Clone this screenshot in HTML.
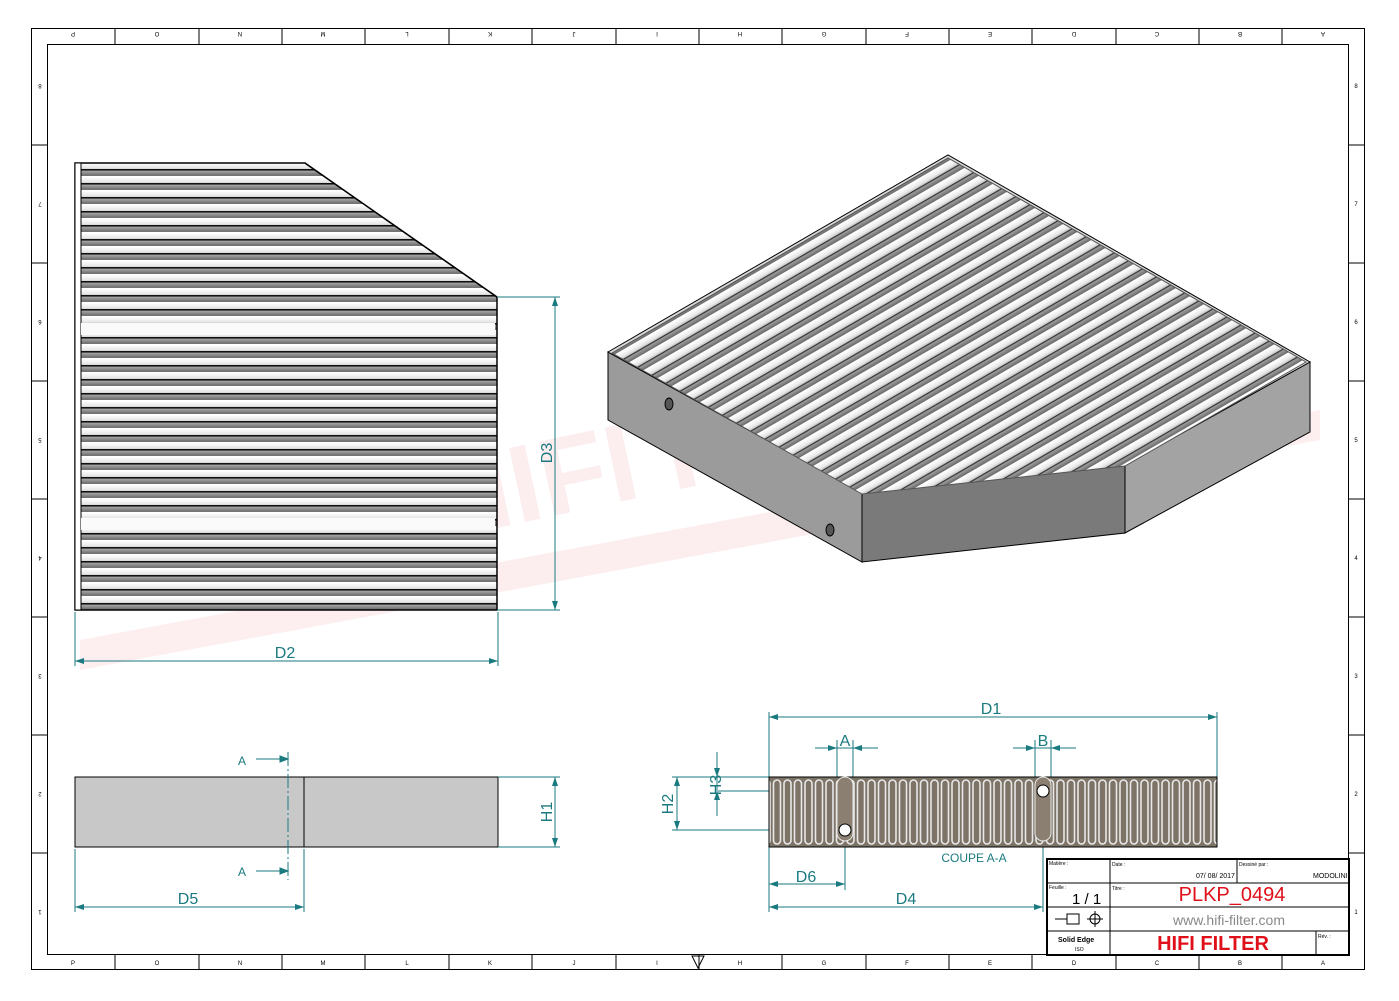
<!DOCTYPE html>
<html><head><meta charset="utf-8"><style>
html,body{margin:0;padding:0;background:#fff;}
svg{display:block;font-family:"Liberation Sans",sans-serif;}
</style></head><body>
<svg width="1399" height="1001" viewBox="0 0 1399 1001" xmlns="http://www.w3.org/2000/svg">
<defs>
<linearGradient id="pg" x1="0" y1="0" x2="0" y2="1">
<stop offset="0" stop-color="#ffffff"/><stop offset="0.35" stop-color="#e6e6e6"/><stop offset="0.6" stop-color="#a0a0a0"/><stop offset="0.9" stop-color="#6a6a6a"/><stop offset="1" stop-color="#f4f4f4"/>
</linearGradient>
<pattern id="pl" width="20" height="14" patternUnits="userSpaceOnUse" y="163">
<rect width="20" height="14" fill="url(#pg)"/><rect y="6" width="20" height="1.6" fill="#111"/><rect y="13" width="20" height="1" fill="#fff"/>
</pattern>
<pattern id="p3" width="20" height="14" patternUnits="userSpaceOnUse" patternTransform="rotate(-30.1)">
<rect width="20" height="14" fill="url(#pg)"/><rect y="7" width="20" height="1.2" fill="#333"/><rect y="13" width="20" height="1" fill="#fff"/>
</pattern>
<pattern id="ps" width="10.5" height="70" patternUnits="userSpaceOnUse" x="772" y="777">
<rect width="10.5" height="70" fill="#7d7467"/>
<rect x="1.5" y="3" width="7" height="64" rx="3.5" fill="none" stroke="#e8e8e8" stroke-width="1.6"/>
</pattern>
<clipPath id="c3"><polygon points="612,353 948,158 1306,362 1125,466 862,494"/></clipPath>
</defs>

<!-- watermark -->
<g opacity="0.07" fill="#e0102a">
<text x="440" y="540" font-size="110" font-weight="bold" transform="rotate(-12 440 540)">HIFI FILTER</text>
<polygon points="80,640 1320,410 1320,440 80,670"/>
</g>

<!-- frame -->
<rect x="31.5" y="28.5" width="1333" height="941" fill="none" stroke="#000"/>
<rect x="47.5" y="44.5" width="1301" height="910" fill="none" stroke="#000"/>
<g stroke="#000" stroke-width="1">
<line x1="115" y1="29" x2="115" y2="44"/><line x1="199" y1="29" x2="199" y2="44"/><line x1="282" y1="29" x2="282" y2="44"/><line x1="365" y1="29" x2="365" y2="44"/><line x1="449" y1="29" x2="449" y2="44"/><line x1="532" y1="29" x2="532" y2="44"/><line x1="616" y1="29" x2="616" y2="44"/><line x1="699" y1="29" x2="699" y2="44"/><line x1="782" y1="29" x2="782" y2="44"/><line x1="866" y1="29" x2="866" y2="44"/><line x1="949" y1="29" x2="949" y2="44"/><line x1="1032" y1="29" x2="1032" y2="44"/><line x1="1116" y1="29" x2="1116" y2="44"/><line x1="1199" y1="29" x2="1199" y2="44"/><line x1="1282" y1="29" x2="1282" y2="44"/>
<line x1="115" y1="955" x2="115" y2="969"/><line x1="199" y1="955" x2="199" y2="969"/><line x1="282" y1="955" x2="282" y2="969"/><line x1="365" y1="955" x2="365" y2="969"/><line x1="449" y1="955" x2="449" y2="969"/><line x1="532" y1="955" x2="532" y2="969"/><line x1="616" y1="955" x2="616" y2="969"/><line x1="699" y1="955" x2="699" y2="969"/><line x1="782" y1="955" x2="782" y2="969"/><line x1="866" y1="955" x2="866" y2="969"/><line x1="949" y1="955" x2="949" y2="969"/><line x1="1032" y1="955" x2="1032" y2="969"/><line x1="1116" y1="955" x2="1116" y2="969"/><line x1="1199" y1="955" x2="1199" y2="969"/><line x1="1282" y1="955" x2="1282" y2="969"/>
<line x1="32" y1="145" x2="47" y2="145"/><line x1="32" y1="263" x2="47" y2="263"/><line x1="32" y1="381" x2="47" y2="381"/><line x1="32" y1="499" x2="47" y2="499"/><line x1="32" y1="617" x2="47" y2="617"/><line x1="32" y1="735" x2="47" y2="735"/><line x1="32" y1="853" x2="47" y2="853"/>
<line x1="1349" y1="145" x2="1364" y2="145"/><line x1="1349" y1="263" x2="1364" y2="263"/><line x1="1349" y1="381" x2="1364" y2="381"/><line x1="1349" y1="499" x2="1364" y2="499"/><line x1="1349" y1="617" x2="1364" y2="617"/><line x1="1349" y1="735" x2="1364" y2="735"/><line x1="1349" y1="853" x2="1364" y2="853"/>
</g>
<g font-size="6" fill="#000" text-anchor="middle">
<text x="73" y="965">P</text><text x="157" y="965">O</text><text x="240" y="965">N</text><text x="323" y="965">M</text><text x="407" y="965">L</text><text x="490" y="965">K</text><text x="574" y="965">J</text><text x="657" y="965">I</text><text x="740" y="965">H</text><text x="824" y="965">G</text><text x="907" y="965">F</text><text x="990" y="965">E</text><text x="1074" y="965">D</text><text x="1157" y="965">C</text><text x="1240" y="965">B</text><text x="1323" y="965">A</text>
<text x="1356" y="88">8</text><text x="1356" y="206">7</text><text x="1356" y="324">6</text><text x="1356" y="442">5</text><text x="1356" y="560">4</text><text x="1356" y="678">3</text><text x="1356" y="796">2</text><text x="1356" y="914">1</text>
</g>
<g font-size="6" fill="#000" text-anchor="middle">
<text x="73" y="36" transform="rotate(180 73 34)">P</text><text x="157" y="36" transform="rotate(180 157 34)">O</text><text x="240" y="36" transform="rotate(180 240 34)">N</text><text x="323" y="36" transform="rotate(180 323 34)">M</text><text x="407" y="36" transform="rotate(180 407 34)">L</text><text x="490" y="36" transform="rotate(180 490 34)">K</text><text x="574" y="36" transform="rotate(180 574 34)">J</text><text x="657" y="36" transform="rotate(180 657 34)">I</text><text x="740" y="36" transform="rotate(180 740 34)">H</text><text x="824" y="36" transform="rotate(180 824 34)">G</text><text x="907" y="36" transform="rotate(180 907 34)">F</text><text x="990" y="36" transform="rotate(180 990 34)">E</text><text x="1074" y="36" transform="rotate(180 1074 34)">D</text><text x="1157" y="36" transform="rotate(180 1157 34)">C</text><text x="1240" y="36" transform="rotate(180 1240 34)">B</text><text x="1323" y="36" transform="rotate(180 1323 34)">A</text>
<text x="40" y="88" transform="rotate(180 40 86)">8</text><text x="40" y="206" transform="rotate(180 40 204)">7</text><text x="40" y="324" transform="rotate(180 40 322)">6</text><text x="40" y="442" transform="rotate(180 40 440)">5</text><text x="40" y="560" transform="rotate(180 40 558)">4</text><text x="40" y="678" transform="rotate(180 40 676)">3</text><text x="40" y="796" transform="rotate(180 40 794)">2</text><text x="40" y="914" transform="rotate(180 40 912)">1</text>
</g>
<polygon points="692,956 704,956 698,968" fill="none" stroke="#000"/>

<!-- left view -->
<polygon points="75,163 305,163 497,297 497,610 75,610" fill="url(#pl)" stroke="#000" stroke-width="1.5"/>
<rect x="75" y="163" width="6" height="447" fill="#fff" stroke="#000"/>
<rect x="81" y="323" width="414" height="12" fill="#fafafa"/>
<rect x="81" y="518" width="414" height="12" fill="#fafafa"/>
<polygon points="305,163 497,297 497,163" fill="#fff"/>
<line x1="305" y1="163" x2="497" y2="297" stroke="#000" stroke-width="1.5"/>

<!-- 3D view -->
<polygon points="608,352 862,493 862,562 608,420" fill="#9b9b9b" stroke="#000"/>
<polygon points="862,493 1125,465 1125,533 862,562" fill="#7a7a7a" stroke="#000"/>
<polygon points="1125,465 1310,362 1310,432 1125,533" fill="#a3a3a3" stroke="#000"/>
<polygon points="608,352 948,155 1310,362 1125,465 862,493" fill="#d8d8d8" stroke="#000"/>
<g clip-path="url(#c3)"><rect x="600" y="150" width="720" height="360" fill="url(#p3)"/></g>
<polygon points="612,353 948,158 1306,362 1125,466 862,494" fill="none" stroke="#555"/>
<ellipse cx="669" cy="404" rx="4" ry="6" fill="#555" stroke="#000"/>
<ellipse cx="830" cy="530" rx="4" ry="6" fill="#555" stroke="#000"/>

<!-- bottom-left view -->
<rect x="75" y="777" width="423" height="70" fill="#c8c8c8" stroke="#000"/>
<line x1="304" y1="777" x2="304" y2="847" stroke="#000"/>
<line x1="288" y1="752" x2="288" y2="880" stroke="#1a7a80" stroke-dasharray="14,3,2,3"/>
<g stroke="#1a7a80" fill="#1a7a80">
<line x1="256" y1="759" x2="288" y2="759"/><polygon points="288,759 280,756 280,762"/>
<line x1="256" y1="871" x2="288" y2="871"/><polygon points="288,871 280,868 280,874"/>
</g>
<g fill="#1a7a80" font-size="16">
<text x="238" y="765" font-size="12">A</text><text x="238" y="876" font-size="12">A</text>
</g>

<!-- dimensions teal -->
<g stroke="#1a7a80" stroke-width="1" fill="none">
<line x1="497" y1="297" x2="560" y2="297"/><line x1="497" y1="610" x2="560" y2="610"/><line x1="555" y1="297" x2="555" y2="610"/>
<line x1="75" y1="612" x2="75" y2="666"/><line x1="498" y1="612" x2="498" y2="666"/><line x1="75" y1="661" x2="498" y2="661"/>
<line x1="498" y1="777" x2="560" y2="777"/><line x1="498" y1="847" x2="560" y2="847"/><line x1="555" y1="777" x2="555" y2="847"/>
<line x1="75" y1="849" x2="75" y2="912"/><line x1="304" y1="849" x2="304" y2="912"/><line x1="75" y1="907" x2="304" y2="907"/>
<line x1="769" y1="712" x2="769" y2="912"/><line x1="1217" y1="712" x2="1217" y2="777"/><line x1="769" y1="717" x2="1217" y2="717"/>
<line x1="769" y1="884" x2="845" y2="884"/><line x1="845" y1="830" x2="845" y2="890"/>
<line x1="769" y1="907" x2="1043" y2="907"/><line x1="1043" y1="791" x2="1043" y2="912"/>
<line x1="837" y1="740" x2="837" y2="777"/><line x1="853" y1="740" x2="853" y2="777"/><line x1="815" y1="748" x2="878" y2="748"/>
<line x1="1035" y1="740" x2="1035" y2="777"/><line x1="1051" y1="740" x2="1051" y2="777"/><line x1="1013" y1="748" x2="1076" y2="748"/>
<line x1="672" y1="777" x2="769" y2="777"/><line x1="672" y1="830" x2="840" y2="830"/><line x1="677" y1="777" x2="677" y2="830"/>
<line x1="718" y1="791" x2="1040" y2="791"/><line x1="717" y1="752" x2="717" y2="816"/>
</g>
<g fill="#1a7a80">
<polygon points="555,297 552,306 558,306"/><polygon points="555,610 552,601 558,601"/>
<polygon points="75,661 84,658 84,664"/><polygon points="498,661 489,658 489,664"/>
<polygon points="555,777 552,786 558,786"/><polygon points="555,847 552,838 558,838"/>
<polygon points="75,907 84,904 84,910"/><polygon points="304,907 295,904 295,910"/>
<polygon points="769,717 778,714 778,720"/><polygon points="1217,717 1208,714 1208,720"/>
<polygon points="769,884 778,881 778,887"/><polygon points="845,884 836,881 836,887"/>
<polygon points="769,907 778,904 778,910"/><polygon points="1043,907 1034,904 1034,910"/>
<polygon points="837,748 828,745 828,751"/><polygon points="853,748 862,745 862,751"/>
<polygon points="1035,748 1026,745 1026,751"/><polygon points="1051,748 1060,745 1060,751"/>
<polygon points="677,777 674,786 680,786"/><polygon points="677,830 674,821 680,821"/>
<polygon points="717,777 714,768 720,768"/><polygon points="717,791 714,800 720,800"/>
</g>
<g fill="#1a7a80" font-size="16">
<text x="285" y="658" text-anchor="middle">D2</text>
<text x="552" y="453" transform="rotate(-90 552 453)" text-anchor="middle">D3</text>
<text x="552" y="812" transform="rotate(-90 552 812)" text-anchor="middle">H1</text>
<text x="188" y="904" text-anchor="middle">D5</text>
<text x="991" y="714" text-anchor="middle">D1</text>
<text x="845" y="746" text-anchor="middle">A</text>
<text x="1043" y="746" text-anchor="middle">B</text>
<text x="806" y="882" text-anchor="middle">D6</text>
<text x="906" y="904" text-anchor="middle">D4</text>
<text x="673" y="804" transform="rotate(-90 673 804)" text-anchor="middle">H2</text>
<text x="721" y="785" transform="rotate(-90 721 785)" text-anchor="middle">H3</text>
<text x="974" y="862" text-anchor="middle" font-size="12">COUPE A-A</text>
</g>

<!-- section view -->
<rect x="769" y="777" width="448" height="70" fill="url(#ps)" stroke="#000"/>
<rect x="837" y="777" width="16" height="64" rx="8" fill="#8a7f70" stroke="#e8e8e8"/>
<rect x="1035" y="777" width="16" height="64" rx="8" fill="#8a7f70" stroke="#e8e8e8"/>
<circle cx="845" cy="830" r="6" fill="#fff" stroke="#000"/>
<circle cx="1043" cy="791" r="6" fill="#fff" stroke="#000"/>

<!-- title block -->
<g stroke="#000" fill="none">
<rect x="1047" y="859" width="302" height="96" stroke-width="2" fill="#fff"/>
<line x1="1047" y1="883" x2="1349" y2="883"/><line x1="1047" y1="907" x2="1349" y2="907"/><line x1="1047" y1="931" x2="1349" y2="931"/>
<line x1="1110" y1="859" x2="1110" y2="955"/><line x1="1237" y1="859" x2="1237" y2="883"/><line x1="1316" y1="931" x2="1316" y2="955"/>
</g>
<g font-size="5" fill="#000">
<text x="1049" y="865">Matière :</text><text x="1112" y="866">Date :</text><text x="1239" y="866">Dessiné par :</text>
<text x="1049" y="889">Feuille :</text><text x="1112" y="890">Titre :</text><text x="1318" y="938">Rév. :</text>
<text x="1196" y="878" font-size="7">07/ 08/ 2017</text><text x="1313" y="878" font-size="7">MODOLINI</text>
<text x="1072" y="904" font-size="15">1 / 1</text>
<text x="1058" y="942" font-size="7" font-weight="bold">Solid Edge</text><text x="1075" y="951" font-size="5">ISO</text>
</g>
<g stroke="#000" fill="none"><line x1="1055" y1="919" x2="1067" y2="919"/><rect x="1067" y="914" width="12" height="10"/><circle cx="1095" cy="919" r="5"/><line x1="1087" y1="919" x2="1103" y2="919"/><line x1="1095" y1="911" x2="1095" y2="927"/></g>
<text x="1232" y="901" font-size="20" fill="#e0101a" text-anchor="middle">PLKP_0494</text>
<text x="1229" y="925" font-size="14" fill="#888" text-anchor="middle">www.hifi-filter.com</text>
<text x="1213" y="950" font-size="20" font-weight="bold" fill="#e0101a" text-anchor="middle">HIFI FILTER</text>
</svg>
</body></html>
